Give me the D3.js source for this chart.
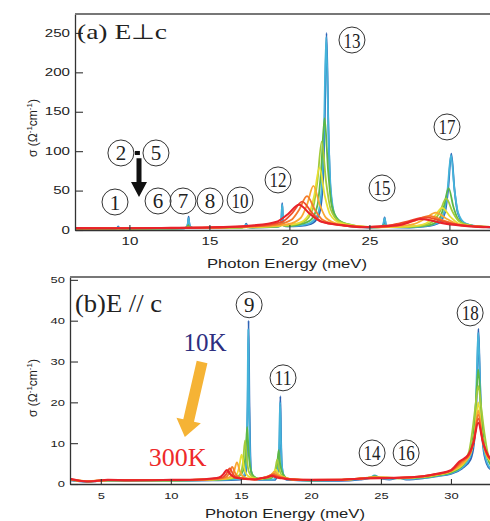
<!DOCTYPE html>
<html>
<head>
<meta charset="utf-8">
<script src="https://cdn.jsdelivr.net/npm/d3@7"></script>
<style>
  body { margin: 0; background: #fff; }
  svg { display: block; }
</style>
</head>
<body>
<svg id="chart" width="490" height="521"></svg>
<script>
// ---- temperatures (coldest first) and their line colours ----
const temperatures = ["10K", "50K", "100K", "150K", "175K", "200K", "250K", "275K", "300K"];
const lineColors = ["#2e62b5", "#45b4da", "#5cb847", "#a3cb3a", "#e9df34", "#f9a833", "#f47b2b", "#ef4c2b", "#e8222a"];

// ---- axis ticks ----
const perpXTicks = [10, 15, 20, 25, 30];
const perpYTicks = [0, 50, 100, 150, 200, 250];
const paraXTicks = [5, 10, 15, 20, 25, 30];
const paraYTicks = [0, 10, 20, 30, 40, 50];

// ---- (a) E ⊥ c : [photon energy (meV), sigma (Ω^-1 cm^-1)] ----
const perp10K = [[6.6,1.5],[9.0,1.5],[9.22,2.0],[9.3,4.5],[9.38,2.0],[9.6,1.6],[12,1.8],[13.45,2.1],[13.6,4],[13.66,9],[13.7,17],[13.74,9],[13.8,4],[14.0,2.3],[16.9,2.9],[17.2,3.8],[17.3,8],[17.4,3.8],[17.7,3.2],[19.2,4],[19.45,5.5],[19.51,17],[19.55,34],[19.59,17],[19.65,5.5],[19.9,4.5],[20.6,5],[21.36,7.8],[21.84,19],[22.08,54],[22.2,129],[22.32,250],[22.44,129],[22.56,54],[22.8,19],[23.28,7.5],[24,4.2],[25.0,3.2],[25.75,3.6],[25.88,7],[25.95,16],[26.02,7],[26.15,3.6],[27.5,3.2],[28.52,4.5],[29.32,8.7],[29.72,22],[29.92,51],[30.12,97],[30.32,51],[30.52,22],[30.92,8.7],[31.72,4.5],[32.6,3.2]];
const perp50K = [[6.6,1.6],[9.0,1.6],[9.2,2.0],[9.3,3.5],[9.4,2.0],[9.6,1.7],[12,1.9],[13.4,2.2],[13.58,4],[13.65,8],[13.7,15],[13.75,8],[13.82,4],[14.05,2.4],[16.9,3],[17.18,3.8],[17.3,7],[17.42,3.8],[17.7,3.3],[19.2,4.2],[19.43,5.5],[19.5,16],[19.55,32],[19.6,16],[19.67,5.5],[19.9,4.6],[20.4,5.2],[21.18,7.8],[21.74,18.4],[22.02,53],[22.16,126],[22.3,245],[22.44,126],[22.58,53],[22.86,18.4],[23.42,7.8],[24.2,4.2],[25.0,3.3],[25.7,3.8],[25.86,7],[25.95,15],[26.04,7],[26.2,3.8],[27.5,3.3],[28.34,4.5],[29.22,8.6],[29.66,22],[29.88,50.5],[30.1,95],[30.32,50.5],[30.54,22],[30.98,8.6],[31.86,4.5],[32.6,3.4]];
const perp100K = [[6.6,1.7],[12,2.0],[13.4,2.3],[13.6,3.5],[13.68,6],[13.76,3.5],[14.0,2.5],[17.0,3.1],[17.28,4.5],[17.36,3.3],[19.2,4.4],[19.45,6],[19.53,10],[19.61,6],[19.9,5],[20.44,6.2],[21.32,12.4],[21.76,32],[21.98,75],[22.2,142],[22.42,75],[22.64,32],[23.08,12.4],[23.96,6],[25.0,3.4],[25.7,3.8],[25.9,6],[26.1,3.8],[27.55,3.8],[28.75,6.1],[29.35,13.6],[29.65,29.5],[29.95,53],[30.25,29.5],[30.55,13.6],[31.15,6.1],[32.35,3.8],[32.6,3.6]];
const perp150K = [[6.6,1.8],[12,2.1],[13.5,2.5],[13.68,4],[13.86,2.6],[17.0,3.2],[17.3,3.8],[17.6,3.3],[19.3,4.6],[19.52,6.5],[19.7,5.5],[20.9,10.6],[21.46,26.4],[21.74,60],[22.02,112],[22.3,60],[22.58,26.4],[23.14,10.6],[24.26,5],[25.5,3.6],[25.9,4.5],[26.3,3.6],[26.6,3.6],[28.2,5.4],[29.0,11],[29.4,23],[29.8,40],[30.2,23],[30.6,11],[31.4,5.4],[32.6,3.8]];
const perp175K = [[6.6,1.9],[12,2.2],[15,2.8],[17.5,3.6],[19.24,5.2],[20.56,8.6],[21.22,19.8],[21.55,43.5],[21.88,79],[22.21,43.5],[22.54,19.8],[23.2,8.6],[24.52,4.2],[25.55,3.4],[27.55,4.6],[28.55,8.6],[29.05,17],[29.55,28],[30.05,17],[30.55,8.6],[31.55,4.6],[32.6,3.6]];
const perp200K = [[6.6,2.0],[12,2.3],[15,2.9],[18.3,4.9],[19.9,7.3],[20.7,15.2],[21.1,32],[21.5,56],[21.9,32],[22.3,15.2],[23.1,7.3],[24.7,4],[25.5,3.4],[26.35,4.3],[27.75,7.4],[28.45,14],[29.15,22],[29.85,14],[30.55,7.4],[31.6,5],[32.6,4]];
const perp250K = [[6.6,2.1],[12,2.4],[14.5,2.9],[17.1,3.9],[19.1,6.5],[20.1,12.6],[20.6,25.5],[21.1,43],[21.6,25.5],[22.1,12.6],[23.1,6.5],[25.0,3.8],[26.05,4.4],[26.95,6.6],[27.85,12],[28.75,18],[29.65,12],[30.55,6.6],[31.5,4.7],[32.6,4]];
const perp275K = [[6.6,2.2],[12,2.5],[14.5,3.0],[16,3.5],[18.4,6],[19.6,11],[20.2,22],[20.8,36],[21.4,22],[22.0,11],[23.2,6],[24.6,3.9],[25.2,4.3],[26.3,6.2],[27.4,11],[28.5,16],[29.6,11],[30.7,6.2],[31.8,4.5],[32.6,4]];
const perp300K = [[6.6,2.4],[9,2.3],[12,2.6],[15,3.3],[17.8,5.9],[19.2,10.4],[19.9,20],[20.6,32],[21.3,20],[22.0,10.4],[23.4,5.9],[24.6,3.5],[25.6,4.3],[26.9,6.5],[27.5,10],[28.2,14],[28.85,12],[29.5,9],[30.8,5.5],[31.8,4.0],[32.6,3.6]];

// ---- (b) E // c ----
const para10K = [[2.8,0.9],[4,0.6],[5.5,0.8],[10,0.8],[13,0.9],[15.0,1.1],[15.25,1.8],[15.37,3.2],[15.43,8],[15.49,20],[15.55,40],[15.61,20],[15.67,8],[15.73,3.2],[15.85,1.8],[16.3,1.0],[17.4,1.0],[17.6,2.0],[17.72,5],[17.77,11],[17.82,21.5],[17.87,11],[17.92,5],[18.04,2.0],[18.3,1.0],[20,0.8],[22,0.8],[23.5,1.1],[24.3,1.5],[24.6,2.0],[24.9,1.5],[25.6,1.1],[26.3,1.5],[26.8,1.1],[28,1.4],[29,1.9],[30,2.5],[30.8,3.8],[31.4,6],[31.65,10],[31.8,17],[31.9,30],[31.96,38],[32.04,30],[32.15,17],[32.3,9],[32.55,5],[32.86,3.5]];
const para50K = [[2.8,1.0],[4,0.6],[5.5,0.85],[10,0.85],[13,0.95],[14.9,1.2],[15.2,2.0],[15.34,3.6],[15.41,8],[15.47,19],[15.53,38],[15.59,19],[15.65,8],[15.72,3.6],[15.86,2.0],[16.3,1.1],[17.35,1.1],[17.55,2.2],[17.68,5],[17.74,10.5],[17.8,20],[17.86,10.5],[17.92,5],[18.05,2.2],[18.3,1.1],[20,0.85],[22,0.9],[23.5,1.2],[24.2,1.5],[24.55,2.1],[24.9,1.5],[25.6,1.2],[26.25,1.5],[26.8,1.2],[28,1.5],[29,2.0],[30,2.6],[30.8,4],[31.35,6.5],[31.6,10.5],[31.76,17.5],[31.86,29],[31.95,37],[32.04,29],[32.14,17.5],[32.3,10],[32.55,5.5],[32.86,3.7]];
const para100K = [[2.8,1.0],[4,0.65],[5.5,0.9],[10,0.85],[13,1.0],[14.6,1.5],[15.05,2.5],[15.25,4.5],[15.35,8],[15.45,14],[15.55,8],[15.65,4.5],[15.85,2.2],[16.3,1.2],[17.1,1.4],[17.4,2.5],[17.6,5],[17.7,8.3],[17.8,5],[18.0,2.5],[18.4,1.2],[20,0.9],[22,0.95],[23.5,1.3],[24.3,1.6],[24.55,1.9],[24.9,1.5],[26.3,1.4],[28,1.6],[29,2.1],[30,2.8],[30.8,4.4],[31.3,7.3],[31.6,12],[31.77,19.5],[31.95,28],[32.13,19.5],[32.3,12],[32.6,6.5],[32.86,4.5]];
const para150K = [[2.8,1.0],[4,0.65],[5.5,0.9],[10,0.9],[13,1.1],[14.3,1.4],[14.78,1.8],[15.04,3.1],[15.17,6],[15.3,10.7],[15.43,6],[15.56,3.1],[15.82,1.8],[16.3,1.3],[17.0,1.5],[17.3,2.2],[17.45,3.5],[17.6,6],[17.75,3.5],[17.9,2.2],[18.2,1.5],[18.6,1.1],[20,0.9],[22,1.0],[23.5,1.3],[24.5,1.7],[26.3,1.4],[28,1.7],[29,2.2],[30,3.0],[30.8,4.8],[31.29,7.9],[31.51,12.5],[31.73,18.5],[31.95,24],[32.17,18.5],[32.39,12.5],[32.6,8],[32.86,5.5]];
const para175K = [[2.8,1.05],[4,0.7],[5.5,0.9],[10,0.9],[13,1.1],[14.37,1.55],[14.71,2.4],[14.88,4.2],[15.05,7.2],[15.22,4.2],[15.39,2.4],[15.73,1.55],[16.3,1.2],[16.7,1.5],[17.1,1.9],[17.3,2.4],[17.5,3.6],[17.7,2.4],[17.9,1.9],[18.3,1.4],[18.8,1.1],[20,0.95],[22,1.0],[23.5,1.3],[24.5,1.6],[26.3,1.5],[28,1.8],[29,2.3],[30,3.1],[30.9,5],[31.43,7.8],[31.69,12],[31.95,20],[32.21,12],[32.47,7.8],[32.86,5.5]];
const para200K = [[2.8,1.1],[4,0.7],[5.5,0.95],[10,0.95],[13.2,1.2],[13.92,1.35],[14.32,1.95],[14.52,3.2],[14.72,5.3],[14.92,3.2],[15.12,1.95],[15.52,1.35],[16.2,1.15],[16.5,1.4],[16.9,1.8],[17.15,2.2],[17.4,3.0],[17.65,2.2],[17.9,1.8],[18.4,1.3],[19,1.05],[20,1.0],[22,1.0],[23.5,1.35],[24.5,1.6],[26.3,1.5],[28,1.8],[29,2.4],[30,3.2],[30.9,5.3],[31.39,7.5],[31.67,11.5],[31.95,18],[32.23,11.5],[32.51,7.5],[32.86,5.8]];
const para250K = [[2.8,1.15],[4,0.7],[5.5,0.95],[10,0.95],[12.8,1.15],[13.5,1.3],[13.94,1.7],[14.16,2.65],[14.38,4.2],[14.6,2.65],[14.82,1.7],[15.26,1.3],[16,1.1],[16.4,1.3],[16.7,1.6],[17.02,2.0],[17.32,2.5],[17.62,2.0],[17.92,1.6],[18.5,1.25],[19.2,1.0],[22,1.05],[23.5,1.35],[24.5,1.6],[26.3,1.5],[28,1.85],[29,2.4],[30,3.2],[30.75,5.3],[31.35,7.4],[31.65,11],[31.95,17],[32.25,11],[32.55,7.4],[32.86,6]];
const para275K = [[2.8,1.2],[4,0.65],[5.5,1.0],[10,0.95],[12.6,1.15],[13.2,1.3],[13.7,1.6],[13.95,2.4],[14.2,3.8],[14.45,2.4],[14.7,1.6],[15.2,1.3],[16,1.1],[16.3,1.25],[16.6,1.5],[16.93,1.8],[17.25,2.2],[17.57,1.8],[17.9,1.5],[18.5,1.2],[20,1.0],[22,1.05],[24,1.4],[26,1.5],[28,1.9],[29,2.45],[30,3.25],[30.7,5.5],[31.31,7.3],[31.63,10.5],[31.95,16],[32.27,10.5],[32.59,7.3],[32.86,6.2]];
const para300K = [[2.8,1.25],[3.3,0.9],[4,0.6],[4.6,0.7],[5.5,1.0],[7,0.9],[10,1.0],[12,1.1],[12.9,1.35],[13.44,1.6],[13.72,2.25],[14.0,3.4],[14.28,2.25],[14.56,1.6],[15.1,1.3],[16.0,1.1],[16.2,1.25],[16.5,1.45],[16.85,1.6],[17.2,2.0],[17.55,1.6],[17.9,1.4],[18.6,1.1],[20,1.0],[22,1.05],[24,1.4],[26,1.5],[28,1.9],[29,2.5],[30,3.4],[30.6,5.5],[31.25,7.2],[31.6,10],[31.95,15],[32.3,10],[32.65,7],[32.86,6]];

const perpSeries = [perp10K, perp50K, perp100K, perp150K, perp175K, perp200K, perp250K, perp275K, perp300K];
const paraSeries = [para10K, para50K, para100K, para150K, para175K, para200K, para250K, para275K, para300K];

// ---- mode labels: [number, energy, sigma] ----
const perpModeLabels = [["1", 9.1, 35.5], ["2", 9.47, 97.7], ["5", 11.66, 97.7], ["6", 11.79, 36.8], ["7", 13.35, 36.8], ["8", 15.04, 36.8], ["10", 16.92, 38], ["12", 19.29, 63.5], ["13", 23.91, 241], ["15", 25.79, 53.3], ["17", 29.85, 130.7]];
const paraModeLabels = [["9", 15.59, 43.9], ["11", 18.01, 26], ["14", 24.37, 7.6], ["16", 26.8, 7.6], ["18", 31.37, 41.9]];

// ---- scales ----
const svg = d3.select("#chart");
const xA = d3.scaleLinear().domain([6.6, 32.6]).range([75, 491]);
const yA = d3.scaleLinear().domain([0, 274]).range([230, 14]);
const xB = d3.scaleLinear().domain([2.8, 32.86]).range([70, 491]);
const yB = d3.scaleLinear().domain([0, 50.7]).range([484, 277]);

const defs = svg.append("defs");
function clip(id, x, y) {
  defs.append("clipPath").attr("id", id).append("rect")
    .attr("x", x.range()[0]).attr("y", y.range()[1])
    .attr("width", x.range()[1] - x.range()[0]).attr("height", y.range()[0] - y.range()[1]);
}
clip("clipA", xA, yA);
clip("clipB", xB, yB);

function drawSpectra(series, x, y, clipId) {
  const line = d3.line().x(d => x(d[0])).y(d => y(d[1])).curve(d3.curveMonotoneX);
  svg.append("g").attr("clip-path", `url(#${clipId})`)
    .selectAll("path").data(series).join("path")
    .attr("d", line)
    .attr("fill", "none")
    .attr("stroke", (d, i) => lineColors[i])
    .attr("stroke-width", (d, i) => i === series.length - 1 ? 2.1 : 1.8)
    .attr("stroke-linejoin", "round");
}

function drawAxes(x, y, xTicks, yTicks, digitWidth, fontSize, xPad) {
  const x0 = x.range()[0], yBottom = y.range()[0], yTop = y.range()[1];
  const gx = svg.append("g").attr("transform", `translate(0,${yBottom})`)
    .call(d3.axisBottom(x).tickValues(xTicks).tickSizeInner(-5).tickSizeOuter(0).tickPadding(xPad));
  const gy = svg.append("g").attr("transform", `translate(${x0},0)`)
    .call(d3.axisLeft(y).tickValues(yTicks).tickSizeInner(-8).tickSizeOuter(0).tickPadding(5));
  [gx, gy].forEach(g => {
    g.select(".domain").attr("stroke", "#333").attr("stroke-width", 1.3);
    g.selectAll(".tick line").attr("stroke", "#333").attr("stroke-width", 1.1);
    g.selectAll(".tick text")
      .attr("font-family", "'Liberation Sans', Arial, sans-serif")
      .attr("font-size", fontSize)
      .attr("fill", "#222")
      .attr("textLength", function () { return this.textContent.length * digitWidth; })
      .attr("lengthAdjust", "spacingAndGlyphs");
  });
  // top frame
  svg.append("line").attr("x1", x0).attr("x2", x.range()[1]).attr("y1", yTop).attr("y2", yTop)
    .attr("stroke", "#777").attr("stroke-width", 2);
}

function axisTitles(cx, baseline, yCenter) {
  svg.append("text").attr("x", cx).attr("y", baseline)
    .attr("text-anchor", "middle")
    .attr("font-family", "'Liberation Sans', Arial, sans-serif")
    .attr("font-size", 13.5).attr("fill", "#222")
    .attr("textLength", 160).attr("lengthAdjust", "spacingAndGlyphs")
    .text("Photon Energy (meV)");
  const t = svg.append("text")
    .attr("transform", `translate(37,${yCenter}) rotate(-90)`)
    .attr("text-anchor", "middle")
    .attr("font-family", "'Liberation Sans', Arial, sans-serif")
    .attr("font-size", 12).attr("fill", "#222");
  t.append("tspan").text("σ (Ω");
  t.append("tspan").attr("font-size", 8).attr("dy", -5).text("-1");
  t.append("tspan").attr("dy", 5).text("cm");
  t.append("tspan").attr("font-size", 8).attr("dy", -5).text("-1");
  t.append("tspan").attr("dy", 5).text(")");
}

function modeLabels(labels, x, y) {
  const g = svg.append("g").selectAll("g").data(labels).join("g")
    .attr("transform", d => `translate(${x(d[1])},${y(d[2])})`);
  g.append("circle").attr("r", 13).attr("fill", "#fff").attr("fill-opacity", 0)
    .attr("stroke", "#333").attr("stroke-width", 1);
  g.append("text").attr("y", 7.5).attr("text-anchor", "middle")
    .attr("font-family", "'Liberation Serif', 'Times New Roman', serif")
    .attr("font-size", 21).attr("fill", "#222")
    .attr("textLength", d => d[0].length > 1 ? 17 : null)
    .attr("lengthAdjust", "spacingAndGlyphs")
    .text(d => d[0]);
}

// ---- panel (a) ----
drawSpectra(perpSeries, xA, yA, "clipA");
drawAxes(xA, yA, perpXTicks, perpYTicks, 8.4, 10, 8);
axisTitles(287, 268, 128);
modeLabels(perpModeLabels, xA, yA);

svg.append("text").attr("x", 77).attr("y", 39)
  .attr("font-family", "'Liberation Serif', 'Times New Roman', serif")
  .attr("font-size", 21).attr("fill", "#222")
  .attr("textLength", 90).attr("lengthAdjust", "spacingAndGlyphs")
  .text("(a) E⊥c");

// dash between modes 2 and 5
svg.append("rect").attr("x", xA(10.5) - 2.5).attr("y", yA(97.7) - 2).attr("width", 5).attr("height", 4).attr("fill", "#111");

// black arrow pointing down from modes 2-5
{
  const ax = xA(10.6), top = yA(91), tip = yA(42), headBase = tip - 15;
  svg.append("path")
    .attr("d", `M${ax - 2.5},${top} L${ax + 2.5},${top} L${ax + 2.5},${headBase} L${ax + 8},${headBase} L${ax},${tip} L${ax - 8},${headBase} L${ax - 2.5},${headBase} Z`)
    .attr("fill", "#111");
}

// ---- panel (b) ----
drawSpectra(paraSeries, xB, yB, "clipB");
drawAxes(xB, yB, paraXTicks, paraYTicks, 7.2, 9, 9);
axisTitles(285, 518, 388);
modeLabels(paraModeLabels, xB, yB);

svg.append("text").attr("x", 75).attr("y", 312)
  .attr("font-family", "'Liberation Serif', 'Times New Roman', serif")
  .attr("font-size", 26).attr("fill", "#222")
  .attr("textLength", 87).attr("lengthAdjust", "spacingAndGlyphs")
  .text("(b)E // c");

// temperature arrow 10K -> 300K
svg.append("text").attr("x", xB(12.44)).attr("y", yB(32.6)).attr("text-anchor", "middle")
  .attr("font-family", "'Liberation Serif', 'Times New Roman', serif")
  .attr("font-size", 25).attr("fill", "#2d2e7f").text(temperatures[0]);
svg.append("text").attr("x", xB(10.48)).attr("y", yB(4.4)).attr("text-anchor", "middle")
  .attr("font-family", "'Liberation Serif', 'Times New Roman', serif")
  .attr("font-size", 26).attr("fill", "#ee2a2a").text(temperatures[temperatures.length - 1]);
{
  const x1 = xB(12.23), y1 = yB(29.9), x2 = xB(11.0), y2 = yB(11.5);
  const len = Math.hypot(x2 - x1, y2 - y1);
  const ux = (x2 - x1) / len, uy = (y2 - y1) / len, px = -uy, py = ux;
  const hw = 5.5, hh = 12.5, hl = 17;
  const bx = x2 - ux * hl, by = y2 - uy * hl;
  const pts = [
    [x1 + px * hw, y1 + py * hw], [bx + px * hw, by + py * hw], [bx + px * hh, by + py * hh],
    [x2, y2],
    [bx - px * hh, by - py * hh], [bx - px * hw, by - py * hw], [x1 - px * hw, y1 - py * hw]
  ];
  svg.append("path").attr("d", "M" + pts.map(p => p.join(",")).join("L") + "Z").attr("fill", "#f5b335");
}
</script>
</body>
</html>
